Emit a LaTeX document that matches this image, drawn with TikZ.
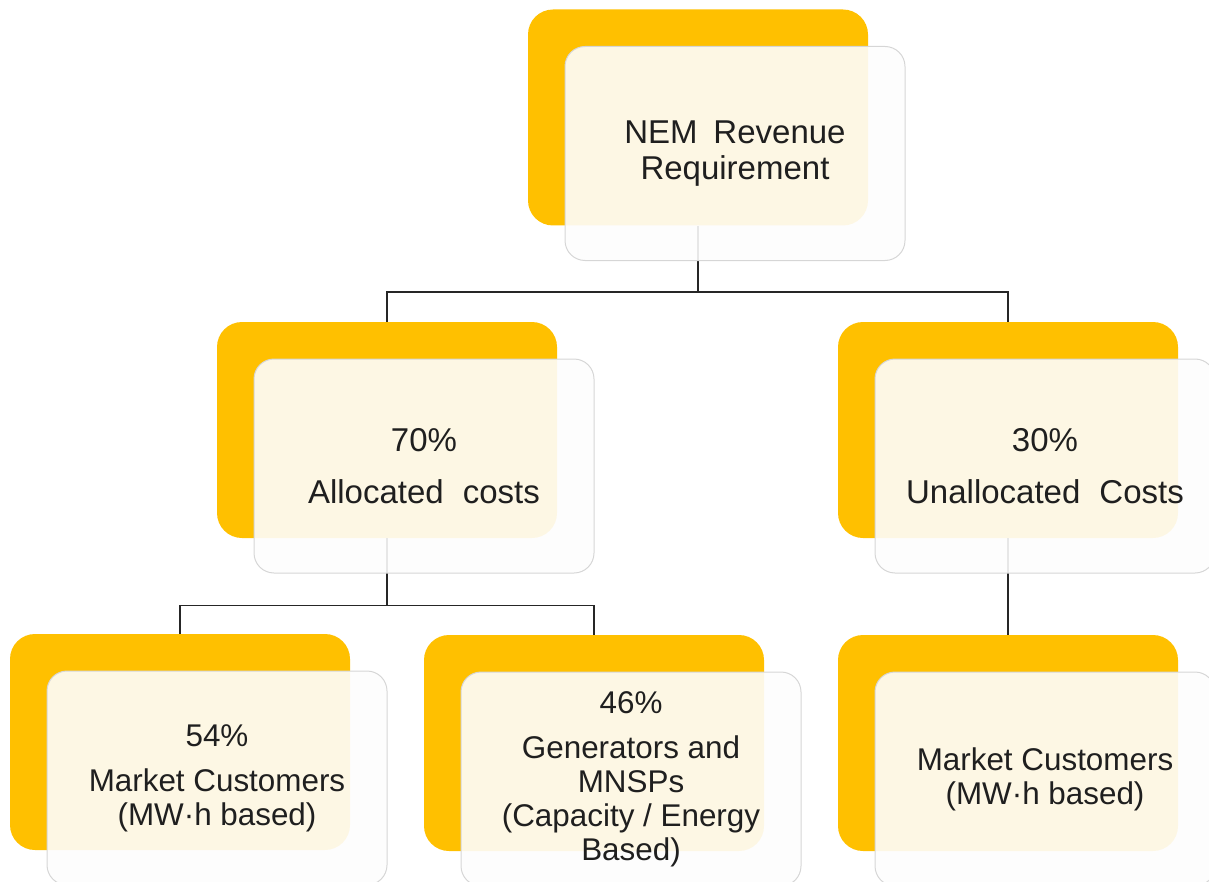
\documentclass[tikz,border=0pt]{standalone}
\usepackage{fontspec}
\setmainfont{Liberation Sans}
\definecolor{amber}{HTML}{FFC000}
\definecolor{sheetgray}{HTML}{D6D6D6}
\definecolor{sheetfill}{HTML}{FDFDFD}
\begin{document}
\begin{tikzpicture}[x=0.5pt,y=-0.5pt]

    \tikzset{
      card/.style={
        fill=amber,
        rounded corners=12.5pt,
        minimum width=170pt,
        minimum height=108pt,
        inner sep=0pt,
      },
      sheet/.style={
        draw=sheetgray,
        line width=0.5pt,
        fill=sheetfill,
        fill opacity=0.9,
        text opacity=1,
        text=black!88,
        rounded corners=10pt,
        minimum width=170pt,
        minimum height=107pt,
        inner sep=0pt,
        align=center,
        xshift=18.5pt,
        yshift=-18pt,
        font=\fontsize{16.5}{18}\selectfont,
      },
      small/.style={font=\fontsize{15.7}{17}\selectfont},
      link/.style={draw=black!85, line width=0.65pt},
    }
    \useasboundingbox (0,0) rectangle (1209,882);
    \clip (0,0) rectangle (1209,882);

	% yellow cards
	\node[card] (nem) at (698,117.5) {};
	\node[card] (alloc) at (387,430) {};
	\node[card] (unalloc) at (1008,430) {};
	\node[card] (mktA) at (180,742) {};
	\node[card] (gen) at (594,743) {};
	\node[card] (mktB) at (1008,743) {};

	% tree links, they run under the sheets
	\path[link] (nem.south) -- ++(0,66) -| (alloc.north);
	\path[link] (nem.south) ++(0,66) -| (unalloc.north);
	\path[link] (alloc.south) -- ++(0,67) -| (mktA.north);
	\path[link] (alloc.south) ++(0,67) -| (gen.north);
	\path[link] (unalloc.south) -- (mktB.north);

	% text sheets
	\node[sheet] (nem-s) at (nem.center) {NEM\hspace{.2em} Revenue\\Requirement};
	\node[sheet] (alloc-s) at (alloc.center) {70\%\\[8pt]Allocated\hspace{.3em} costs};
	\node[sheet] (unalloc-s) at (unalloc.center) {30\%\\[8pt]Unallocated\hspace{.3em} Costs};
	\node[sheet,small] (mktA-s) at (mktA.center) {54\%\\[5.5pt]Market Customers\\(MW·h based)};
	\node[sheet,small] (gen-s) at (gen.center) {46\%\\[5.5pt]Generators and\\MNSPs\\(Capacity / Energy\\Based)};
	\node[sheet,small] (mktB-s) at (mktB.center) {Market Customers\\(MW·h based)};

\end{tikzpicture}
\end{document}
